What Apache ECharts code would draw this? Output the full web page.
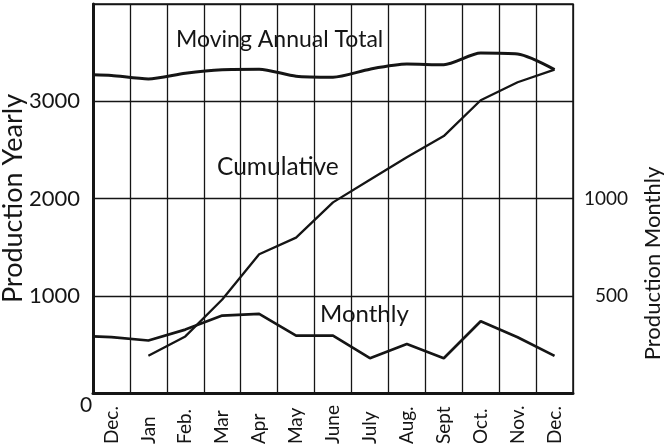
<!DOCTYPE html>
<html>
<head>
<meta charset="utf-8">
<script src="https://cdn.jsdelivr.net/npm/echarts@6/dist/echarts.min.js"></script>
<style>
  html, body { margin: 0; padding: 0; background: #fff; }
  #main { width: 670px; height: 447px; }
</style>
</head>
<body>
<div id="main"></div>
<script>
// month labels along the bottom
var months = ['Dec.', 'Jan', 'Feb.', 'Mar', 'Apr', 'May', 'June', 'July', 'Aug.', 'Sept', 'Oct.', 'Nov.', 'Dec.'];
// yearly scale (left)
var movingTotal = [3265, 3230, 3289, 3325, 3330, 3257, 3247, 3330, 3382, 3376, 3495, 3485, 3325];
var movingTotalStart = 3272;
var cumulative = [383, 582, 962, 1427, 1598, 1960, 2192, 2425, 2642, 3010, 3195, 3325]; // Jan..Dec
// monthly scale (right)
var monthly = [287, 270, 326, 398, 407, 295, 295, 179, 252, 179, 369, 287, 191];
var monthlyStart = 291;
var yearlyTicks = [0, 1000, 2000, 3000];
var monthlyTicks = [500, 1000];

var ink = '#151515';
var font = 'Lato';

// month i sits at the centre of band i on the hidden value axis (0..13)
function pts(values, first, start) {
  var out = [];
  if (start != null) out.push([0, start]);
  values.forEach(function (v, i) { out.push([first + i + 0.5, v]); });
  return out;
}

var chart = echarts.init(document.getElementById('main'));
chart.setOption({
  backgroundColor: '#fff',
  animation: false,
  grid: { left: 93, right: 97, top: 4, bottom: 54, show: true, borderColor: ink, borderWidth: 1.5, outerBoundsMode: 'none' },
  xAxis: [{
    type: 'category',
    data: months,
    boundaryGap: true,
    axisLine: { lineStyle: { color: ink, width: 3 } },
    axisTick: { show: false },
    splitLine: { show: true, lineStyle: { color: ink, width: 1.3 } },
    axisLabel: {
      interval: 0, rotate: 90, margin: 13, color: ink,
      formatter: function (v) { return '{m|' + v + '}'; },
      rich: { m: { fontFamily: font, fontSize: 19, color: ink, width: 38, align: 'left' } }
    }
  }, {
    type: 'value', min: 0, max: 13, show: false
  }],
  yAxis: [{
    type: 'value', min: 0, max: 4000, interval: 1000, position: 'left',
    name: 'Production Yearly', nameLocation: 'middle', nameGap: 66, nameRotate: 90,
    nameMoveOverlap: false,
    nameTextStyle: { fontFamily: font, fontSize: 27, color: ink },
    axisLine: { show: true, lineStyle: { color: ink, width: 3 } },
    axisTick: { show: false },
    splitLine: { lineStyle: { color: ink, width: 1.3 } },
    axisLabel: {
      margin: 13, color: ink, fontFamily: font, fontSize: 22,
      formatter: function (v) {
        if (yearlyTicks.indexOf(v) < 0) return '';
        return v === 0 ? '{z|0}' : String(v);
      },
      rich: { z: { fontFamily: font, fontSize: 21, color: ink, width: 0, align: 'left', padding: [24, 0, 0, 0] } }
    }
  }, {
    type: 'value', min: 0, max: 2000, interval: 500, position: 'right',
    name: 'Production Monthly', nameLocation: 'middle', nameGap: 69, nameRotate: 90,
    nameMoveOverlap: false,
    nameTextStyle: { fontFamily: font, fontSize: 22, color: ink, padding: [0, 130, 0, 0] },
    axisLine: { show: false },
    axisTick: { show: false },
    splitLine: { show: false },
    axisLabel: {
      margin: 55, align: 'right', color: ink, fontFamily: font, fontSize: 19,
      formatter: function (v) { return monthlyTicks.indexOf(v) < 0 ? '' : String(v); }
    }
  }],
  series: [{
    name: 'Moving Annual Total', type: 'line', xAxisIndex: 1, yAxisIndex: 0,
    data: pts(movingTotal, 0, movingTotalStart),
    smooth: 0.25, symbol: 'none',
    lineStyle: { color: ink, width: 3 }
  }, {
    name: 'Cumulative', type: 'line', xAxisIndex: 1, yAxisIndex: 0,
    data: pts(cumulative, 1, null),
    symbol: 'none',
    lineStyle: { color: ink, width: 2.3 }
  }, {
    name: 'Monthly', type: 'line', xAxisIndex: 1, yAxisIndex: 1,
    data: pts(monthly, 0, monthlyStart),
    symbol: 'none',
    lineStyle: { color: ink, width: 2.7 }
  }],
  graphic: [
    { type: 'text', left: 176, top: 28, style: { text: 'Moving Annual Total', font: '23px Lato', fill: ink } },
    { type: 'text', left: 217, top: 155, style: { text: 'Cumulative', font: '24.5px Lato', fill: ink } },
    { type: 'text', left: 320, top: 302, style: { text: 'Monthly', font: '24px Lato', fill: ink } }
  ]
});
</script>
</body>
</html>
